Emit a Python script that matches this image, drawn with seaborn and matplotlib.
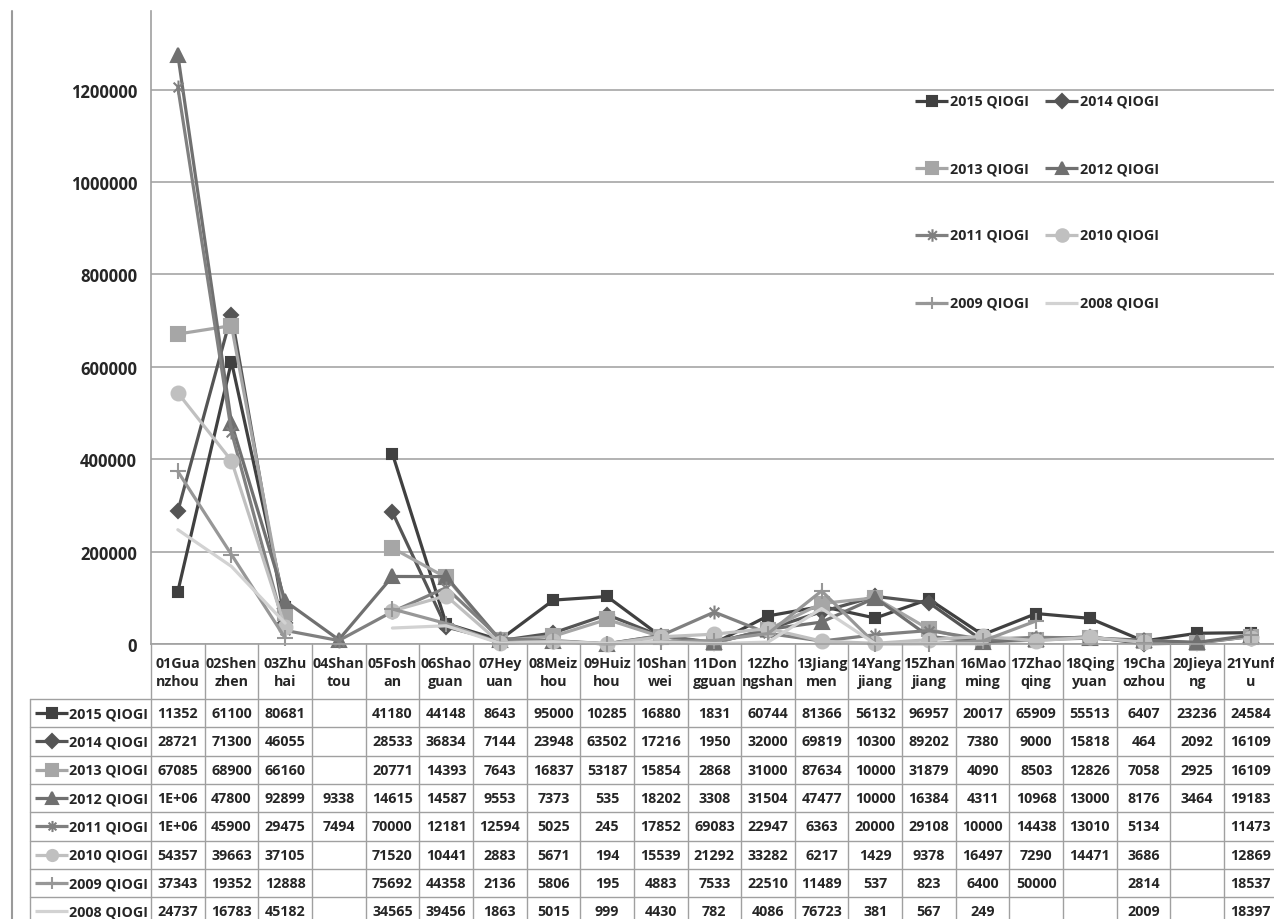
import numpy as np
import pandas as pd
import seaborn as sns
import matplotlib.pyplot as plt
from matplotlib.path import Path

# ---- data (table text is the clipped display) ----
nan = np.nan
cities = ['01Guangzhou', '02Shenzhen', '03Zhuhai', '04Shantou', '05Foshan', '06Shaoguan',
          '07Heyuan', '08Meizhou', '09Huizhou', '10Shanwei', '11Dongguan', '12Zhongshan',
          '13Jiangmen', '14Yangjiang', '15Zhanjiang', '16Maoming', '17Zhaoqing',
          '18Qingyuan', '19Chaozhou', '20Jieyang', '21Yunfu']
city_labels = ['01Gua\nnzhou', '02Shen\nzhen', '03Zhu\nhai', '04Shan\ntou', '05Fosh\nan',
               '06Shao\nguan', '07Hey\nuan', '08Meiz\nhou', '09Huiz\nhou', '10Shan\nwei',
               '11Don\ngguan', '12Zho\nngshan', '13Jiang\nmen', '14Yang\njiang',
               '15Zhan\njiang', '16Mao\nming', '17Zhao\nqing', '18Qing\nyuan',
               '19Cha\nozhou', '20Jieya\nng', '21Yunf\nu']
series = ['2015 QIOGI', '2014 QIOGI', '2013 QIOGI', '2012 QIOGI',
          '2011 QIOGI', '2010 QIOGI', '2009 QIOGI', '2008 QIOGI']

v2015 = [113520, 611000, 80681, nan, 411800, 44148, 8643, 95000, 102850, 16880, 1831,
         60744, 81366, 56132, 96957, 20017, 65909, 55513, 6407, 23236, 24584]
v2014 = [287210, 713000, 46055, nan, 285330, 36834, 7144, 23948, 63502, 17216, 1950,
         32000, 69819, 103000, 89202, 7380, 9000, 15818, 464, 2092, 16109]
v2013 = [670850, 689000, 66160, nan, 207710, 143930, 7643, 16837, 53187, 15854, 2868,
         31000, 87634, 100000, 31879, 4090, 8503, 12826, 7058, 2925, 16109]
v2012 = [1275000, 478000, 92899, 9338, 146150, 145870, 9553, 7373, 535, 18202, 3308,
         31504, 47477, 100000, 16384, 4311, 10968, 13000, 8176, 3464, 19183]
v2011 = [1205000, 459000, 29475, 7494, 70000, 121810, 12594, 5025, 245, 17852, 69083,
         22947, 6363, 20000, 29108, 10000, 14438, 13010, 5134, nan, 11473]
v2010 = [543570, 396630, 37105, nan, 71520, 104410, 2883, 5671, 194, 15539, 21292,
         33282, 6217, 1429, 9378, 16497, 7290, 14471, 3686, nan, 12869]
v2009 = [373430, 193520, 12888, nan, 75692, 44358, 2136, 5806, 195, 4883, 7533,
         22510, 114890, 537, 823, 6400, 50000, nan, 2814, nan, 18537]
v2008 = [247370, 167830, 45182, nan, 34565, 39456, 1863, 5015, 999, 4430, 782,
         4086, 76723, 381, 567, 249, nan, nan, 2009, nan, 18397]
values = [v2015, v2014, v2013, v2012, v2011, v2010, v2009, v2008]

# Excel style "star" marker: an X with a vertical bar
star = Path([(0, 1), (0, -1), (-0.7, 0.7), (0.7, -0.7), (-0.7, -0.7), (0.7, 0.7)],
            [Path.MOVETO, Path.LINETO] * 3)

# ---- styles ----
styles = {
    '2015 QIOGI': dict(color='#404040', marker='s', ms=7),
    '2014 QIOGI': dict(color='#555555', marker='D', ms=7),
    '2013 QIOGI': dict(color='#a6a6a6', marker='s', ms=10),
    '2012 QIOGI': dict(color='#707070', marker='^', ms=10),
    '2011 QIOGI': dict(color='#808080', marker=star, ms=10),
    '2010 QIOGI': dict(color='#c0c0c0', marker='o', ms=10),
    '2009 QIOGI': dict(color='#979797', marker='+', ms=11),
    '2008 QIOGI': dict(color='#d2d2d2', marker='', ms=0),
}


def cell_text(v):
    # Excel data table clips numbers to the column width
    if np.isnan(v):
        return ''
    if v >= 1e6:
        return '1E+06'
    return str(int(v))[:5]


sns.set_style('white')
plt.rcParams['font.family'] = ['Open Sans', 'DejaVu Sans']
plt.rcParams['font.weight'] = 'bold'
FS = 10.3

W, H = 1274, 920
fig = plt.figure(figsize=(W / 100, H / 100), dpi=100)

x0, colw = 151, 53.65
y0, ytop = 645, 12
ax = fig.add_axes([x0 / W, (H - y0) / H, 21 * colw / W, (y0 - ytop) / H])

for name, vals in zip(series, values):
    st = styles[name]
    s = pd.Series(vals, dtype=float)
    d = pd.DataFrame({'x': np.arange(len(cities)), 'y': s, 'seg': s.isna().cumsum()}).dropna()
    sns.lineplot(data=d, x='x', y='y', units='seg', estimator=None, ax=ax,
                 color=st['color'], marker=st['marker'], markersize=st['ms'],
                 markeredgecolor=st['color'], markeredgewidth=1.5,
                 linewidth=2.3, legend=False, clip_on=False)

ax.set_xlim(-0.5, 20.5)
ax.set_ylim(0, 1370000)
ax.set_yticks(range(0, 1200001, 200000))
ax.set_yticklabels([str(t) for t in range(0, 1200001, 200000)], fontsize=12, fontweight='bold')
ax.tick_params(axis='y', length=0, pad=10)
ax.set_xticks([])
ax.set_xlabel('')
ax.set_ylabel('')
ax.grid(axis='y', color='#a6a6a6', lw=1.2)
ax.set_axisbelow(True)
for sp in ['top', 'right']:
    ax.spines[sp].set_visible(False)
for sp in ['left', 'bottom']:
    ax.spines[sp].set_color('#a0a0a0')
    ax.spines[sp].set_linewidth(1.2)

# ---- overlay in pixel coordinates for the data table and legend ----
ov = fig.add_axes([0, 0, 1, 1])
ov.set_xlim(0, W)
ov.set_ylim(H, 0)
ov.axis('off')
ov.patch.set_visible(False)

gcol = '#a0a0a0'
ov.plot([12, 12], [ytop, H], color='#9a9a9a', lw=1.5)

row_top, row_h = 700, 28.33
for k in range(22):
    x = x0 + k * colw
    ov.plot([x, x], [y0, H], color=gcol, lw=1)
ov.plot([30, 30], [row_top, H], color=gcol, lw=1)
for r in range(9):
    y = row_top + r * row_h
    ov.plot([30, W], [y, y], color=gcol, lw=1)

for i, lab in enumerate(city_labels):
    ov.text(x0 + (i + 0.5) * colw, 673, lab, ha='center', va='center',
            fontsize=FS, fontweight='bold', linespacing=1.3)


def draw_key(xa, xb, y, name, big=8):
    st = styles[name]
    ov.plot([xa, xb], [y, y], color=st['color'], lw=2.3, solid_capstyle='butt')
    if st['marker']:
        ov.plot([(xa + xb) / 2], [y], ls='none', marker=st['marker'],
                ms=min(st['ms'], big), color=st['color'], mec=st['color'], mew=1.5)


for r, (name, vals) in enumerate(zip(series, values)):
    yc = row_top + (r + 0.5) * row_h
    draw_key(35, 68, yc, name)
    ov.text(69, yc, name, ha='left', va='center', fontsize=FS, fontweight='bold')
    for i, v in enumerate(vals):
        ov.text(x0 + (i + 0.5) * colw, yc, cell_text(v), ha='center', va='center',
                fontsize=FS, fontweight='bold')

# legend, two columns
leg_rows = [101.7, 169, 236, 304]
for r in range(4):
    for c, (xa, xb) in enumerate([(915, 948), (1045, 1078)]):
        name = series[2 * r + c]
        draw_key(xa, xb, leg_rows[r], name, big=9)
        ov.text(xb + 2, leg_rows[r], name, ha='left', va='center',
                fontsize=FS, fontweight='bold')

fig.savefig('out.png', dpi=100)
